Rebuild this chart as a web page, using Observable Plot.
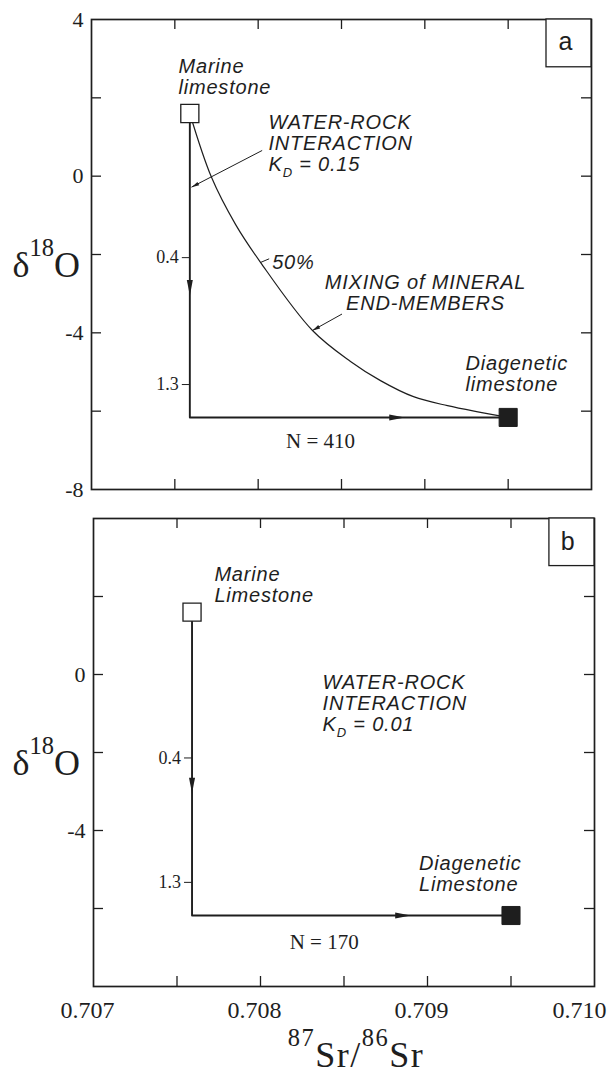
<!DOCTYPE html>
<html>
<head>
<meta charset="utf-8">
<script src="https://cdn.jsdelivr.net/npm/d3@7"></script>
<script src="https://cdn.jsdelivr.net/npm/@observablehq/plot@0.6"></script>
<style>
  html, body { margin: 0; padding: 0; background: #fff; }
  #chart { width: 610px; }
  #chart svg { display: block; background: #fff; }
  #chart g[font-style="italic"] text { letter-spacing: 0.8px; }
</style>
</head>
<body>
<div id="chart"></div>
<script>
// ---------------- data ----------------
const xDomain = [0.707, 0.710];
const yDomain = [-8, 4];
const xTicks = [0.7075, 0.708, 0.7085, 0.709, 0.7095];
const yTicks = [2, 0, -2, -4, -6];
const xTickLabels = [0.707, 0.708, 0.709, 0.710];
const yTickLabelsA = [4, 0, -4, -8];
const yTickLabelsB = [0, -4];

const panelNames = ["a", "b"];
const marineX = [0.70759, 0.70759];
const marineY = [1.60, 1.60];
const diageneticX = [0.70950, 0.70950];
const diageneticY = [-6.16, -6.18];
const sampleCount = [410, 170];
const arrowDownY = [-3.05, -3.05];
const arrowRightX = [0.70888, 0.70890];

const fractionLabels = ["0.4", "1.3"];
const fractionYA = [-2.08, -5.32];
const fractionYB = [-2.14, -5.33];

// mixing of mineral end-members (panel a)
const mixingX = [0.70759, 0.707720, 0.707864, 0.708014, 0.708326, 0.708554, 0.708734, 0.708932, 0.709136, 0.709334, 0.70950];
const mixingY = [1.60, -0.03, -1.23, -2.20, -3.94, -4.73, -5.22, -5.63, -5.86, -6.03, -6.16];

// annotations (data coordinates)
const annotationsA = [
  {kind: "block", text: "Marine\nlimestone", x: 0.707522, y: 3.02},
  {kind: "block", text: "WATER-ROCK\nINTERACTION\nK_{D} = 0.15", x: 0.708062, y: 1.59},
  {kind: "inline", text: "50%", x: 0.708084, y: -2.20},
  {kind: "centered", text: "MIXING of MINERAL\nEND-MEMBERS", x: 0.709004, y: -2.50},
  {kind: "block", text: "Diagenetic\nlimestone", x: 0.709244, y: -4.58}
];
const annotationsB = [
  {kind: "block", text: "Marine\nLimestone", x: 0.707724, y: 2.79},
  {kind: "block", text: "WATER-ROCK\nINTERACTION\nK_{D} = 0.01", x: 0.708372, y: 0.02},
  {kind: "block", text: "Diagenetic\nLimestone", x: 0.708949, y: -4.63}
];
const countLabelX = [0.708374, 0.708381];
const countLabelY = [-6.77, -6.86];
const leadersA = [
  {x1: 0.708024, y1: 0.656, x2: 0.707600, y2: -0.28, head: true},
  {x1: 0.708503, y1: -3.52, x2: 0.708326, y2: -3.94, head: true},
  {x1: 0.708016, y1: -2.20, x2: 0.708066, y2: -2.11, head: false}
];
const boxX1 = 0.70973, boxY1 = 2.78;
const boxLetterX = [0.709844, 0.709840];
const boxLetterY = [3.43, 3.39];

// ---------------- rendering ----------------
const ink = "#1e1e1e";
const serif = "'Liberation Serif', 'Times New Roman', serif";
const sans = "'Liberation Sans', Arial, sans-serif";

const arrowHead = (len, half) => ({
  draw(ctx, size) {
    const r = Math.sqrt(size / Math.PI);
    ctx.moveTo(0, 0);
    ctx.lineTo(-len * r, -half * r);
    ctx.lineTo(-len * r, half * r);
    ctx.closePath();
  }
});
const mainHead = arrowHead(2.6, 0.5);
const smallHead = arrowHead(2.4, 0.6);
const dashLeft = {draw(ctx, size) { const r = Math.sqrt(size / Math.PI); ctx.moveTo(-r, 0); ctx.lineTo(0, 0); }};

function panel(cfg) {
  const {i, height, marginTop, marginBottom, marginLeft, marginRight, yLabels, annotations, fractionY, withCurve, leaders, withXAxis} = cfg;
  const width = 610;
  const fw = width - marginLeft - marginRight;
  const fh = height - marginTop - marginBottom;
  const kx = fw / (xDomain[1] - xDomain[0]);
  const ky = fh / (yDomain[1] - yDomain[0]);
  const angle = (x1, y1, x2, y2) => Math.atan2(-(y2 - y1) * ky, (x2 - x1) * kx) * 180 / Math.PI;
  const marine = {x: marineX[i], y: marineY[i]};
  const diag = {x: diageneticX[i], y: diageneticY[i]};
  const corner = {x: marine.x, y: diag.y};
  const tl = 10;
  const fractions = fractionLabels.map((t, j) => ({t, x: marine.x, y: fractionY[j]}));
  const heads = [
    {x: marine.x, y: arrowDownY[i], a: 90},
    {x: arrowRightX[i], y: diag.y, a: 0}
  ];
  const leaderHeads = leaders.filter(d => d.head).map(d => ({x: d.x2, y: d.y2, a: angle(d.x1, d.y1, d.x2, d.y2)}));
  const txt = {fill: ink, fontFamily: sans, fontStyle: "italic", fontSize: 20, lineHeight: 1.05};

  const marks = [
    // inward ticks on all four sides
    Plot.tickX(xTicks, {x: d => d, insetBottom: fh - tl, stroke: ink, strokeWidth: 1.3}),
    Plot.tickX(xTicks, {x: d => d, insetTop: fh - tl, stroke: ink, strokeWidth: 1.3}),
    Plot.tickY(yTicks, {y: d => d, insetRight: fw - tl, stroke: ink, strokeWidth: 1.3}),
    Plot.tickY(yTicks, {y: d => d, insetLeft: fw - tl, stroke: ink, strokeWidth: 1.3}),
    Plot.frame({stroke: ink, strokeWidth: 1.7}),
    // panel letter box
    Plot.rect([{x1: boxX1, x2: xDomain[1], y1: boxY1, y2: yDomain[1]}], {x1: "x1", x2: "x2", y1: "y1", y2: "y2", fill: "white", stroke: ink, strokeWidth: 1.3}),
    Plot.text([panelNames[i]], {x: boxLetterX[i], y: boxLetterY[i], text: d => d, fontFamily: sans, fontSize: 25, fill: ink, lineAnchor: "middle"}),
    // y tick labels
    Plot.text(yLabels, {y: d => d, text: d => String(d), frameAnchor: "left", textAnchor: "end", dx: -8, fontSize: 22, fontFamily: serif, fill: ink, lineAnchor: "middle"}),
    // y axis title
    Plot.text(["δ^{18}O"], {text: d => d, frameAnchor: "left", textAnchor: "start", dx: 12 - marginLeft, dy: 10.5, fontSize: 36, fontFamily: serif, fill: ink, lineAnchor: "middle"})
  ];
  if (withCurve) {
    marks.push(Plot.line(mixingX.map((x, j) => ({x, y: mixingY[j]})), {x: "x", y: "y", curve: "catmull-rom", stroke: ink, strokeWidth: 1.2}));
  }
  marks.push(
    Plot.line([marine, corner, diag], {x: "x", y: "y", stroke: ink, strokeWidth: 1.9}),
    Plot.link(leaders, {x1: "x1", y1: "y1", x2: "x2", y2: "y2", stroke: ink, strokeWidth: 1}),
    Plot.dot(heads, {x: "x", y: "y", rotate: "a", symbol: mainHead, r: 6, fill: ink, stroke: "none"}),
    Plot.dot(leaderHeads, {x: "x", y: "y", rotate: "a", symbol: smallHead, r: 3.2, fill: ink, stroke: "none"}),
    Plot.dot([marine], {x: "x", y: "y", symbol: "square", r: 10.2, fill: "white", stroke: ink, strokeWidth: 1.3}),
    Plot.dot([diag], {x: "x", y: "y", symbol: "square", r: 10.2, fill: ink, stroke: ink, strokeWidth: 1}),
    Plot.dot(fractions, {x: "x", y: "y", symbol: dashLeft, r: 8, fill: "none", stroke: ink, strokeWidth: 1}),
    Plot.text(fractions, {x: "x", y: "y", text: "t", textAnchor: "end", dx: -11, fontSize: 18, fontFamily: serif, fill: ink, lineAnchor: "middle"}),
    Plot.text([{x: countLabelX[i], y: countLabelY[i]}], {x: "x", y: "y", text: () => `N = ${sampleCount[i]}`, fontSize: 21, fontFamily: serif, fill: ink, lineAnchor: "middle"}),
    Plot.text(annotations.filter(d => d.kind === "block"), {x: "x", y: "y", text: "text", textAnchor: "start", lineAnchor: "top", ...txt}),
    Plot.text(annotations.filter(d => d.kind === "inline"), {x: "x", y: "y", text: "text", textAnchor: "start", lineAnchor: "middle", ...txt}),
    Plot.text(annotations.filter(d => d.kind === "centered"), {x: "x", y: "y", text: "text", textAnchor: "middle", lineAnchor: "top", ...txt})
  );
  if (withXAxis) {
    marks.push(
      Plot.text(xTickLabels.slice(0, -1), {x: d => d, text: d => d.toFixed(3), frameAnchor: "bottom", lineAnchor: "top", dy: 14, dx: -6, fontSize: 24, fontFamily: serif, fill: ink}),
      Plot.text(xTickLabels.slice(-1), {x: d => d, text: d => d.toFixed(3), frameAnchor: "bottom", lineAnchor: "top", textAnchor: "end", dy: 14, dx: 12, fontSize: 24, fontFamily: serif, fill: ink}),
      Plot.text(["^{87}Sr/^{86}Sr"], {text: d => d, frameAnchor: "bottom", lineAnchor: "bottom", dy: 80, dx: 12, fontSize: 36, fontFamily: serif, fill: ink})
    );
  }
  return Plot.plot({
    width, height, marginTop, marginBottom, marginLeft, marginRight,
    x: {domain: xDomain, axis: null},
    y: {domain: yDomain, axis: null},
    marks
  });
}

const chart = document.getElementById("chart");
chart.append(panel({
  i: 0, height: 510, marginTop: 19, marginBottom: 21, marginLeft: 91, marginRight: 19,
  yLabels: yTickLabelsA, annotations: annotationsA, fractionY: fractionYA,
  withCurve: true, leaders: leadersA, withXAxis: false
}));
chart.append(panel({
  i: 1, height: 568, marginTop: 8, marginBottom: 92, marginLeft: 93, marginRight: 16,
  yLabels: yTickLabelsB, annotations: annotationsB, fractionY: fractionYB,
  withCurve: false, leaders: [], withXAxis: true
}));

// turn ^{..} and _{..} markup into real super/subscript tspans
function richify(root) {
  const ns = "http://www.w3.org/2000/svg";
  const nodes = Array.from(root.querySelectorAll("text, tspan"))
    .filter(el => el.childElementCount === 0 && /[\^_]\{/.test(el.textContent));
  for (const el of nodes) {
    const s = el.textContent;
    if (s.startsWith("^{87}")) el.style.letterSpacing = "1.5px";
    const fs = parseFloat(getComputedStyle(el).fontSize) || 16;
    el.textContent = "";
    const re = /([\^_])\{([^}]*)\}/g;
    let last = 0, cur = 0, m;
    const add = (t, target, scale) => {
      if (!t) return;
      const sp = document.createElementNS(ns, "tspan");
      if (scale) sp.setAttribute("font-size", (fs * scale).toFixed(1));
      if (target !== cur) { sp.setAttribute("dy", (target - cur).toFixed(1)); cur = target; }
      sp.textContent = t;
      el.appendChild(sp);
    };
    while ((m = re.exec(s))) {
      add(s.slice(last, m.index), 0, null);
      if (m[1] === "^") add(m[2], -0.58 * fs, 0.68);
      else add(m[2], 0.3 * fs, 0.65);
      last = re.lastIndex;
    }
    add(s.slice(last), 0, null);
  }
}
richify(chart);
</script>
</body>
</html>
